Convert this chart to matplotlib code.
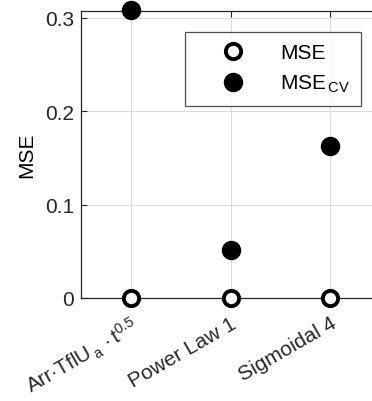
import matplotlib
matplotlib.use("Agg")
import matplotlib.pyplot as plt

plt.rcParams['font.family'] = ['Liberation Sans', 'DejaVu Sans']
plt.rcParams['mathtext.fontset'] = 'custom'
plt.rcParams['mathtext.rm'] = 'Liberation Sans'
plt.rcParams['mathtext.it'] = 'Liberation Sans'

categories = [r'Arr$\cdot$TflU$_{\,\rm a}$$\,\cdot$t$^{0.5}$', 'Power Law 1', 'Sigmoidal 4']
mse = [0.0, 0.0, 0.0]
mse_cv = [0.309, 0.0515, 0.163]

fig = plt.figure(figsize=(3.72, 4.02), dpi=100)
left = 81 / 372
bottom = (402 - 299) / 402
height = (299 - 12) / 402
width = (380 - 81) / 372
ax = fig.add_axes([left, bottom, width, height])

x = [1, 2, 3]
ax.plot(x, mse, linestyle='none', marker='o', markersize=11, markerfacecolor='white',
        markeredgecolor='black', markeredgewidth=2.8, label='MSE', clip_on=False, zorder=3)
ax.plot(x, mse_cv, linestyle='none', marker='o', markersize=13, markerfacecolor='black',
        markeredgecolor='black', label=r'MSE$_{\,\rm CV}$', clip_on=False, zorder=3)

ax.set_xlim(0.5, 3.5)
ax.set_ylim(0, 0.3075)
ax.set_xticks(x)
ax.set_xticklabels(categories, rotation=30, ha='right', rotation_mode='anchor', fontsize=15)
ax.set_yticks([0, 0.1, 0.2, 0.3])
ax.set_yticklabels(['0', '0.1', '0.2', '0.3'], fontsize=15)
ax.set_ylabel('MSE', fontsize=15, labelpad=6)
ax.grid(True, color='#dcdcdc', linewidth=0.8)
ax.set_axisbelow(True)
for s in ax.spines.values():
    s.set_color('#262626')
    s.set_linewidth(0.9)
ax.tick_params(direction='in', length=4, color='#262626', labelcolor='#262626',
               top=True, right=True, pad=5)
ax.tick_params(axis='x', pad=11)

leg = ax.legend(loc='upper left', bbox_to_anchor=((185 - 81) / 299, 1 - (33 - 12) / 287),
                fontsize=15, frameon=True, fancybox=False, edgecolor='#262626',
                borderpad=0.55, handletextpad=0.5, labelspacing=0.5, borderaxespad=0,
                handlelength=3.52)
leg.get_frame().set_linewidth(0.9)

fig.savefig('out.png', dpi=100)
